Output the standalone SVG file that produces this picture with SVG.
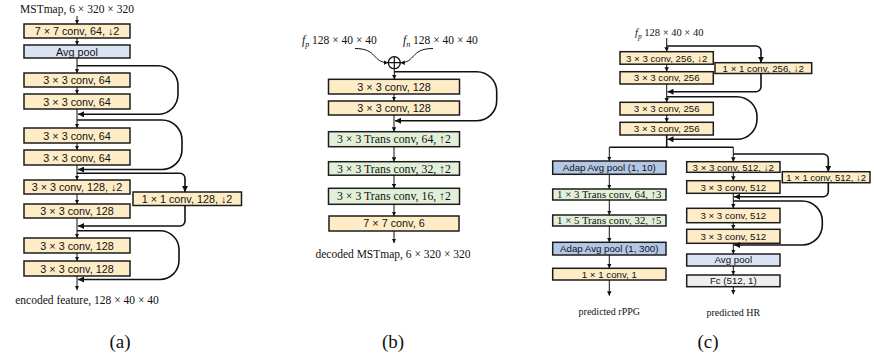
<svg xmlns="http://www.w3.org/2000/svg" width="874" height="358" viewBox="0 0 874 358">
<defs>
<marker id="ah" viewBox="0 0 6 6" refX="6" refY="3" markerWidth="4.5" markerHeight="4.5" markerUnits="userSpaceOnUse" orient="auto"><path d="M0,0 L6,3 L0,6 z" fill="#111"/></marker>
<marker id="ahb" viewBox="0 0 6 6" refX="6" refY="3" markerWidth="6" markerHeight="6" markerUnits="userSpaceOnUse" orient="auto"><path d="M0,0 L6,3 L0,6 z" fill="#111"/></marker>
</defs>
<style>
.box rect{stroke:#1c1c1c;stroke-width:1.5}
.or{fill:#fdecc6}.bl{fill:#dae3f3}.bd{fill:#b4c7e7}.gr{fill:#e2f0d9}.gy{fill:#efefef}
.t{font-family:"Liberation Sans",Arial,sans-serif;fill:#111;text-anchor:middle}
.ts{font-family:"Liberation Serif","Times New Roman",serif;fill:#111;text-anchor:middle}
.lab{font-family:"Liberation Serif","Times New Roman",serif;fill:#111}
.cap{font-family:"Liberation Serif","Times New Roman",serif;fill:#111;text-anchor:middle;font-size:19px}
.m{fill:none;stroke:#111;stroke-width:1;marker-end:url(#ah)}
.s{fill:none;stroke:#111;stroke-width:1.6;marker-end:url(#ahb)}
.sn{fill:none;stroke:#111;stroke-width:1.6}
</style>

<!-- Panel (a) -->
<text class="ts" x="77" y="13" font-size="11.5">MSTmap, 6 × 320 × 320</text>
<g id="a1" class="box"><rect class="or" x="24" y="24" width="106" height="14"/><text class="t" x="77" y="35" font-size="10.8">7 × 7 conv, 64, ↓2</text></g>
<g id="a2" class="box"><rect class="bl" x="24" y="45" width="106" height="13"/><text class="t" x="77" y="55.5" font-size="10.8">Avg pool</text></g>
<g id="a3" class="box"><rect class="or" x="24" y="73" width="106" height="14"/><text class="t" x="77" y="84" font-size="10.8">3 × 3 conv, 64</text></g>
<g id="a4" class="box"><rect class="or" x="24" y="94" width="106" height="15"/><text class="t" x="77" y="105.5" font-size="10.8">3 × 3 conv, 64</text></g>
<g id="a5" class="box"><rect class="or" x="24" y="128" width="106" height="15"/><text class="t" x="77" y="139.5" font-size="10.8">3 × 3 conv, 64</text></g>
<g id="a6" class="box"><rect class="or" x="24" y="150" width="106" height="15"/><text class="t" x="77" y="161.5" font-size="10.8">3 × 3 conv, 64</text></g>
<g id="a7" class="box"><rect class="or" x="24" y="180" width="106" height="14"/><text class="t" x="77" y="191" font-size="10.8">3 × 3 conv, 128, ↓2</text></g>
<g id="a8" class="box"><rect class="or" x="133" y="192" width="108.5" height="13.5"/><text class="t" x="187" y="202.8" font-size="10.8">1 × 1 conv, 128, ↓2</text></g>
<g id="a9" class="box"><rect class="or" x="24" y="204" width="106" height="14"/><text class="t" x="77" y="215" font-size="10.8">3 × 3 conv, 128</text></g>
<g id="a10" class="box"><rect class="or" x="24" y="238" width="106" height="15"/><text class="t" x="77" y="249.5" font-size="10.8">3 × 3 conv, 128</text></g>
<g id="a11" class="box"><rect class="or" x="24" y="261" width="106" height="15"/><text class="t" x="77" y="272.5" font-size="10.8">3 × 3 conv, 128</text></g>
<text class="ts" x="87" y="304" font-size="11.5">encoded feature, 128 × 40 × 40</text>
<text class="cap" x="120" y="348">(a)</text>

<!-- Panel (b) -->
<text class="lab" x="302" y="44" font-size="11.5"><tspan font-style="italic">f</tspan><tspan font-style="italic" font-size="8" dy="2.5">p</tspan><tspan dy="-2.5"> 128 × 40 × 40</tspan></text>
<text class="lab" x="403" y="44" font-size="11.5"><tspan font-style="italic">f</tspan><tspan font-style="italic" font-size="8" dy="2.5">n</tspan><tspan dy="-2.5"> 128 × 40 × 40</tspan></text>
<g id="bplus"><circle cx="394.3" cy="62.7" r="6" fill="#fff" stroke="#111" stroke-width="1.3"/><path d="M388.3,62.7 H400.3 M394.3,56.7 V68.7" stroke="#111" stroke-width="1.2"/></g>
<g id="b1" class="box"><rect class="or" x="328.5" y="79.3" width="131" height="14.7"/><text class="t" x="394" y="90.6" font-size="10.8">3 × 3 conv, 128</text></g>
<g id="b2" class="box"><rect class="or" x="328.5" y="101" width="131" height="14"/><text class="t" x="394" y="112" font-size="10.8">3 × 3 conv, 128</text></g>
<g id="b3" class="box"><rect class="gr" x="328.5" y="131.7" width="131" height="15"/><text class="ts" x="394" y="143.2" font-size="11.8">3 × 3 Trans conv, 64, ↑2</text></g>
<g id="b4" class="box"><rect class="gr" x="328.5" y="161.7" width="131" height="13.5"/><text class="ts" x="394" y="172.5" font-size="11.8">3 × 3 Trans conv, 32, ↑2</text></g>
<g id="b5" class="box"><rect class="gr" x="328.5" y="188.3" width="131" height="16"/><text class="ts" x="394" y="200.2" font-size="11.8">3 × 3 Trans conv, 16, ↑2</text></g>
<g id="b6" class="box"><rect class="or" x="329" y="216" width="130" height="15"/><text class="t" x="394" y="227.4" font-size="10.8">7 × 7 conv, 6</text></g>
<text class="ts" x="393" y="258" font-size="11.5">decoded MSTmap, 6 × 320 × 320</text>
<text class="cap" x="393" y="348">(b)</text>

<!-- Panel (c) -->
<text class="lab" x="635" y="36" font-size="10.5"><tspan font-style="italic">f</tspan><tspan font-style="italic" font-size="7.5" dy="2.5">p</tspan><tspan dy="-2.5"> 128 × 40 × 40</tspan></text>
<g id="c1" class="box"><rect class="or" x="620" y="51.7" width="93.3" height="12.5"/><text class="t" x="666.7" y="61.5" font-size="9.7">3 × 3 conv, 256, ↓2</text></g>
<g id="c2" class="box"><rect class="or" x="715" y="62.7" width="96.7" height="10.8"/><text class="t" x="763.3" y="71.7" font-size="9.7">1 × 1 conv, 256, ↓2</text></g>
<g id="c3" class="box"><rect class="or" x="620" y="71.7" width="93.3" height="12.3"/><text class="t" x="666.7" y="81.4" font-size="9.7">3 × 3 conv, 256</text></g>
<g id="c4" class="box"><rect class="or" x="620" y="102.3" width="93.3" height="12.7"/><text class="t" x="666.7" y="112.2" font-size="9.7">3 × 3 conv, 256</text></g>
<g id="c5" class="box"><rect class="or" x="620" y="122.3" width="93.3" height="12.7"/><text class="t" x="666.7" y="132.2" font-size="9.7">3 × 3 conv, 256</text></g>
<g id="l1" class="box"><rect class="bd" x="552.7" y="161" width="113.3" height="13.3"/><text class="t" x="609.3" y="171.1" font-size="9.7">Adap Avg pool (1, 10)</text></g>
<g id="l2" class="box"><rect class="gr" x="552.7" y="189" width="113.3" height="11"/><text class="ts" x="609.3" y="198.3" font-size="10.8">1 × 3 Trans conv, 64, ↑3</text></g>
<g id="l3" class="box"><rect class="gr" x="552.7" y="215" width="113.3" height="11"/><text class="ts" x="609.3" y="224.3" font-size="10.8">1 × 5 Trans conv, 32, ↑5</text></g>
<g id="l4" class="box"><rect class="bd" x="552.7" y="242.3" width="113.3" height="12.7"/><text class="t" x="609.3" y="252.2" font-size="9.7">Adap Avg pool (1, 300)</text></g>
<g id="l5" class="box"><rect class="or" x="552.7" y="268.3" width="113.3" height="11.7"/><text class="t" x="609.3" y="277.7" font-size="9.7">1 × 1 conv, 1</text></g>
<text class="ts" x="609.3" y="315" font-size="10">predicted rPPG</text>
<g id="r1" class="box"><rect class="or" x="686.7" y="161.7" width="93.3" height="10.6"/><text class="t" x="733.3" y="170.5" font-size="9.7">3 × 3 conv, 512, ↓2</text></g>
<g id="r2" class="box"><rect class="or" x="782.3" y="171.7" width="87.7" height="11"/><text class="t" x="826.2" y="180.7" font-size="9.5">1 × 1 conv, 512, ↓2</text></g>
<g id="r3" class="box"><rect class="or" x="686.7" y="180.7" width="93.3" height="12.6"/><text class="t" x="733.3" y="190.5" font-size="9.7">3 × 3 conv, 512</text></g>
<g id="r4" class="box"><rect class="or" x="686.7" y="208.3" width="93.3" height="14.4"/><text class="t" x="733.3" y="219" font-size="9.7">3 × 3 conv, 512</text></g>
<g id="r5" class="box"><rect class="or" x="686.7" y="229.3" width="93.3" height="14"/><text class="t" x="733.3" y="239.8" font-size="9.7">3 × 3 conv, 512</text></g>
<g id="r6" class="box"><rect class="bl" x="686.7" y="254" width="93.3" height="12"/><text class="t" x="733.3" y="263.4" font-size="9.7">Avg pool</text></g>
<g id="r7" class="box"><rect class="gy" x="686.7" y="275" width="93.3" height="11.7"/><text class="t" x="733.3" y="284.4" font-size="9.7">Fc (512, 1)</text></g>
<text class="ts" x="733.3" y="316" font-size="10">predicted HR</text>
<text class="cap" x="708" y="348">(c)</text>

<g id="connectors">
<!-- (a) main -->
<path class="m" d="M77,16 V24"/>
<path class="m" d="M77,38 V45"/>
<path class="m" d="M77,58 V73"/>
<path class="m" d="M77,87 V94"/>
<path class="m" d="M77,109 V128"/>
<path class="m" d="M77,143 V150"/>
<path class="m" d="M77,165 V180"/>
<path class="m" d="M77,194 V204"/>
<path class="m" d="M77,218 V238"/>
<path class="m" d="M77,253 V261"/>
<path class="m" d="M77,276 V290"/>
<!-- (a) skips -->
<path class="s" d="M77,65.7 H158 A20,20 0 0 1 178,85.7 V94.3 A20,20 0 0 1 158,114.3 H78"/>
<path class="s" d="M77,120 H162 A20,20 0 0 1 182,140 V149.5 A20,20 0 0 1 162,169.5 H78"/>
<path class="s" d="M77,173.3 H180 A5,5 0 0 1 185,178.3 V192"/>
<path class="s" d="M185,205.5 V221 A5,5 0 0 1 180,226 H78"/>
<path class="s" d="M77,230.7 H160 A19,19 0 0 1 179,249.7 V260.5 A19,19 0 0 1 160,279.5 H78"/>
<!-- (b) -->
<path class="m" d="M355,48.5 C378,48.5 372,62.7 388.3,62.7"/>
<path class="m" d="M433,48.5 C410,48.5 416,62.7 400.3,62.7"/>
<path class="m" d="M394.3,68.7 V79.3"/>
<path class="m" d="M394,94 V101"/>
<path class="m" d="M394,115 V131.7"/>
<path class="m" d="M394,146.7 V161.7"/>
<path class="m" d="M394,175.2 V188.3"/>
<path class="m" d="M394,204.3 V216"/>
<path class="m" d="M394,231 V243"/>
<path class="s" d="M394.3,71.7 H476.7 A20,20 0 0 1 496.7,91.7 V100.7 A20,20 0 0 1 476.7,120.7 H395"/>
<!-- (c) top -->
<path class="m" d="M666.7,38 V51.7"/>
<path class="m" d="M666.7,64.2 V71.7"/>
<path class="m" d="M666.7,84 V102.3"/>
<path class="m" d="M666.7,115 V122.3"/>
<path class="sn" d="M666.7,135 V147.3"/>
<path class="s" d="M666.7,46 H756 A5,5 0 0 1 761,51 V62.7"/>
<path class="s" d="M761,73.5 V86.7 A5,5 0 0 1 756,91.7 H667.5"/>
<path class="s" d="M666.7,96.7 H737 A20,20 0 0 1 757,116.7 V119.3 A20,20 0 0 1 737,139.3 H667.5"/>
<path class="sn" d="M609.3,147.3 H733.3"/>
<path class="m" d="M609.3,147.3 V161"/>
<path class="m" d="M733.3,147.3 V161.7"/>
<path class="s" d="M733.3,154 H823.3 A5,5 0 0 1 828.3,159 V171.7"/>
<!-- (c) left -->
<path class="m" d="M609.3,174.3 V189"/>
<path class="m" d="M609.3,200 V215"/>
<path class="m" d="M609.3,226 V242.3"/>
<path class="m" d="M609.3,255 V268.3"/>
<path class="m" d="M609.3,280 V295.7"/>
<!-- (c) right -->
<path class="m" d="M733.3,172.3 V180.7"/>
<path class="m" d="M733.3,193.3 V208.3"/>
<path class="m" d="M733.3,222.7 V229.3"/>
<path class="m" d="M733.3,243.3 V254"/>
<path class="m" d="M733.3,266 V275"/>
<path class="m" d="M733.3,286.7 V294.3"/>
<path class="s" d="M828.3,182.7 V191.7 A5,5 0 0 1 823.3,196.7 H734"/>
<path class="s" d="M733.3,201 H802.3 A20,20 0 0 1 822.3,221 V225 A20,20 0 0 1 802.3,245 H734"/>
</g>
</svg>
